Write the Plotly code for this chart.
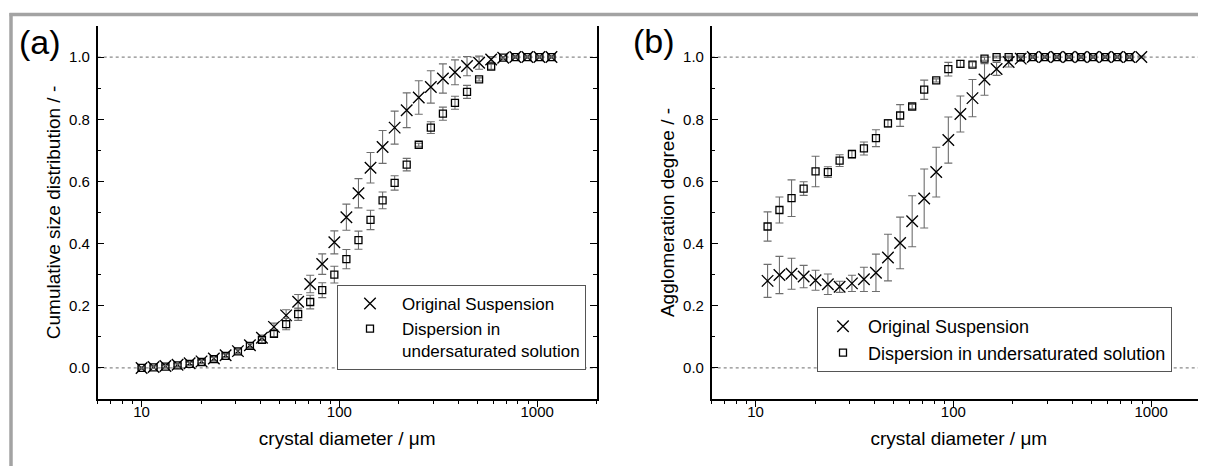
import numpy as np
import plotly.graph_objects as go

# ---------------- data ----------------
sizes = [10.0, 11.5, 13.2, 15.2, 17.5, 20.1, 23.2, 26.6, 30.7, 35.3, 40.6, 46.7,
         53.8, 61.9, 71.2, 81.9, 94.3, 108.5, 124.9, 143.7, 165.4, 190.3, 219.0,
         252.0, 290.0, 333.8, 384.1, 442.0, 508.7, 585.4, 673.6, 775.2, 892.0,
         1026.5, 1181.3]

# panel (a): cumulative size distribution
a_orig = [0.0, 0.003, 0.006, 0.010, 0.015, 0.021, 0.030, 0.041, 0.054, 0.073, 0.097,
          0.132, 0.169, 0.213, 0.270, 0.334, 0.404, 0.485, 0.562, 0.644, 0.711,
          0.773, 0.829, 0.870, 0.904, 0.931, 0.951, 0.971, 0.982, 0.992, 0.998,
          1.0, 1.0, 1.0, 1.0]
a_orig_err = [0.003, 0.004, 0.004, 0.005, 0.005, 0.005, 0.006, 0.006, 0.007, 0.008, 0.009,
              0.012, 0.018, 0.023, 0.028, 0.033, 0.037, 0.042, 0.047, 0.049, 0.053,
              0.053, 0.056, 0.054, 0.052, 0.047, 0.040, 0.031, 0.021, 0.010, 0.004,
              0.003, 0.003, 0.003, 0.003]
a_disp = [0.0, 0.002, 0.004, 0.008, 0.013, 0.019, 0.028, 0.039, 0.053, 0.071, 0.090,
          0.110, 0.141, 0.173, 0.212, 0.250, 0.300, 0.350, 0.411, 0.476, 0.539,
          0.595, 0.654, 0.718, 0.773, 0.818, 0.853, 0.888, 0.928, 0.969, 0.998,
          1.0, 1.0, 1.0, 1.0]
a_disp_err = [0.003, 0.004, 0.004, 0.005, 0.005, 0.005, 0.006, 0.006, 0.007, 0.008, 0.009,
              0.010, 0.018, 0.020, 0.022, 0.024, 0.027, 0.031, 0.029, 0.031, 0.027,
              0.023, 0.020, 0.005, 0.019, 0.021, 0.021, 0.021, 0.005, 0.008, 0.003,
              0.003, 0.003, 0.003, 0.003]

# panel (b): agglomeration degree
b_sizes_orig = sizes[1:33]
b_orig = [0.280, 0.299, 0.303, 0.294, 0.282, 0.269, 0.261, 0.272, 0.285, 0.306,
          0.355, 0.402, 0.472, 0.545, 0.630, 0.733, 0.817, 0.868, 0.928, 0.962,
          0.984, 0.995, 1.0, 1.0, 1.0, 1.0, 1.0, 1.0, 1.0, 1.0, 1.0, 1.0]
b_orig_err = [0.053, 0.060, 0.050, 0.036, 0.032, 0.033, 0.018, 0.026, 0.039, 0.060,
              0.075, 0.083, 0.082, 0.095, 0.080, 0.074, 0.058, 0.060, 0.051, 0.021,
              0.016, 0.008, 0.003, 0.003, 0.003, 0.003, 0.003, 0.003, 0.003, 0.003,
              0.003, 0.003]
b_sizes_disp = sizes[1:32]
b_disp = [0.455, 0.508, 0.546, 0.577, 0.632, 0.630, 0.667, 0.688, 0.706, 0.739,
          0.787, 0.812, 0.841, 0.895, 0.925, 0.961, 0.978, 0.976, 0.995, 1.0,
          1.0, 1.0, 1.0, 1.0, 1.0, 1.0, 1.0, 1.0, 1.0, 1.0, 1.0]
b_disp_err = [0.047, 0.042, 0.059, 0.022, 0.049, 0.017, 0.019, 0.013, 0.021, 0.027,
              0.012, 0.035, 0.007, 0.031, 0.005, 0.022, 0.011, 0.008, 0.005, 0.003,
              0.003, 0.003, 0.003, 0.003, 0.003, 0.003, 0.003, 0.003, 0.003, 0.003,
              0.003]

x_major = [10, 100, 1000]
x_major_text = ["10", "100", "1000"]
x_minor = [6, 7, 8, 9, 20, 30, 40, 50, 60, 70, 80, 90,
           200, 300, 400, 500, 600, 700, 800, 900, 2000]

name_orig = "Original Suspension"
name_disp_a = "Dispersion in<br>undersaturated solution"
name_disp_b = "Dispersion in undersaturated solution"

# ---------------- layout geometry (px in the 1206x466 window) ----------------
OFF = 8               # page body margin offsets the figure
W, H = 1206 - OFF, 466 - OFF
FONT = "Liberation Sans, Arial, sans-serif"

def px_x(p):
    return (p - OFF) / W

def px_y(p):
    return 1 - (p - OFF) / H

y_dom = [px_y(399), px_y(26)]
xa_dom = [px_x(97.7), px_x(596.7)]
xb_dom = [px_x(711.7), 1.0]
log_lo = np.log10(6)
dec_px = 499.0 / (np.log10(2000) - log_lo)
xa_range = [log_lo, np.log10(2000)]
xb_range = [log_lo, log_lo + (1206 - 711.7) / dec_px]

fig = go.Figure()

err_style = dict(type="data", color="#6e6e6e", thickness=1.1, width=4)
x_marker = dict(symbol="x-thin-open", size=11.5, color="black",
                line=dict(color="black", width=1.35))
sq_marker = dict(symbol="square-open", size=7, color="black",
                 line=dict(color="black", width=1.3))

fig.add_trace(go.Scatter(x=sizes, y=a_orig, mode="markers", name=name_orig,
                         marker=x_marker,
                         error_y=dict(array=a_orig_err, **err_style),
                         xaxis="x", yaxis="y", legend="legend"))
fig.add_trace(go.Scatter(x=sizes, y=a_disp, mode="markers", name=name_disp_a,
                         marker=sq_marker,
                         error_y=dict(array=a_disp_err, **err_style),
                         xaxis="x", yaxis="y", legend="legend"))
fig.add_trace(go.Scatter(x=b_sizes_orig, y=b_orig, mode="markers", name=name_orig,
                         marker=x_marker,
                         error_y=dict(array=b_orig_err, **err_style),
                         xaxis="x2", yaxis="y2", legend="legend2"))
fig.add_trace(go.Scatter(x=b_sizes_disp, y=b_disp, mode="markers", name=name_disp_b,
                         marker=sq_marker,
                         error_y=dict(array=b_disp_err, **err_style),
                         xaxis="x2", yaxis="y2", legend="legend2"))

tickfont = dict(family=FONT, size=15, color="black")
titlefont = dict(family=FONT, size=19, color="black")

def bottom_axis(dom, rng, anchor):
    return dict(type="log", domain=dom, range=rng, anchor=anchor,
                tickmode="array", tickvals=x_major, ticktext=x_major_text,
                ticks="outside", ticklen=6, tickwidth=1.3, tickcolor="black",
                minor=dict(tickmode="array", tickvals=x_minor, ticks="outside",
                           ticklen=3.5, tickwidth=1.1, tickcolor="black"),
                showline=True, linecolor="black", linewidth=1.5, mirror=False,
                showgrid=False, zeroline=False, automargin=False,
                ticklabelstandoff=-8,
                tickfont=tickfont,
                title=dict(text="crystal diameter / \u03bcm", font=titlefont, standoff=13))

def top_axis(dom, rng, anchor, over):
    return dict(type="log", domain=dom, range=rng, anchor=anchor, overlaying=over,
                side="top", tickmode="array", tickvals=x_major,
                ticks="inside", ticklen=7, tickwidth=1.3, tickcolor="black",
                minor=dict(tickmode="array", tickvals=x_minor, ticks="inside",
                           ticklen=4, tickwidth=1.1, tickcolor="black"),
                showticklabels=False, showline=True, linecolor="black",
                linewidth=1.5, showgrid=False, zeroline=False, automargin=False)

def y_axis(anchor, title, mirror):
    return dict(domain=y_dom, range=[-0.1, 1.1], anchor=anchor,
                tickmode="array", tickvals=[0, 0.2, 0.4, 0.6, 0.8, 1.0],
                tickformat=".1f",
                ticks="inside", ticklen=7, tickwidth=1.3, tickcolor="black",
                minor=dict(tickmode="array", tickvals=[-0.1, 0.1, 0.3, 0.5, 0.7, 0.9, 1.1],
                           ticks="inside", ticklen=4, tickwidth=1.1, tickcolor="black"),
                showline=True, linecolor="black", linewidth=1.5, mirror=mirror,
                showgrid=False, zeroline=False, automargin=False,
                ticklabelstandoff=3,
                tickfont=tickfont,
                title=dict(text=title, font=titlefont, standoff=3))

fig.update_layout(
    width=W, height=H,
    margin=dict(l=0, r=0, t=0, b=0),
    paper_bgcolor="white", plot_bgcolor="white",
    font=dict(family=FONT, color="black"),
    xaxis=bottom_axis(xa_dom, xa_range, "y"),
    xaxis2=bottom_axis(xb_dom, xb_range, "y2"),
    xaxis3=top_axis(xa_dom, xa_range, "y", "x"),
    xaxis4=top_axis(xb_dom, xb_range, "y2", "x2"),
    yaxis=y_axis("x", "Cumulative size distribution / -", "ticks"),
    yaxis2=y_axis("x2", "Agglomeration degree / -", False),
    legend=dict(x=px_x(337), y=px_y(285), xanchor="left", yanchor="top",
                bgcolor="white", bordercolor="#555555", borderwidth=1,
                font=dict(family=FONT, size=17, color="black"),
                valign="top", itemwidth=54, tracegroupgap=0),
    legend2=dict(x=px_x(817), y=px_y(307), xanchor="left", yanchor="top",
                 bgcolor="white", bordercolor="#555555", borderwidth=1,
                 font=dict(family=FONT, size=18, color="black"),
                 valign="top", itemwidth=40, tracegroupgap=0),
    showlegend=True,
)

# dotted reference lines at 0 and 1
for xr, yr in (("x domain", "y"), ("x2 domain", "y2")):
    for yv in (0.0, 1.0):
        fig.add_shape(type="line", xref=xr, yref=yr, x0=0, x1=1, y0=yv, y1=yv,
                      line=dict(color="#8a8a8a", width=1.2, dash="dot"), layer="below")

# grey figure frame (top and left)
fig.add_shape(type="line", xref="paper", yref="paper", x0=px_x(9.5), x1=1.0,
              y0=px_y(14.5), y1=px_y(14.5), line=dict(color="#a3a3a3", width=3.5))
fig.add_shape(type="line", xref="paper", yref="paper", x0=px_x(11), x1=px_x(11),
              y0=px_y(13), y1=0, line=dict(color="#a3a3a3", width=3.5))

# panel labels
fig.add_annotation(text="(a)", xref="paper", yref="paper", x=px_x(40), y=px_y(42),
                   xanchor="center", yanchor="middle",
                   showarrow=False, font=dict(family=FONT, size=34, color="black"))
fig.add_annotation(text="(b)", xref="paper", yref="paper", x=px_x(654), y=px_y(41),
                   xanchor="center", yanchor="middle",
                   showarrow=False, font=dict(family=FONT, size=34, color="black"))

fig.write_html("out.html")
